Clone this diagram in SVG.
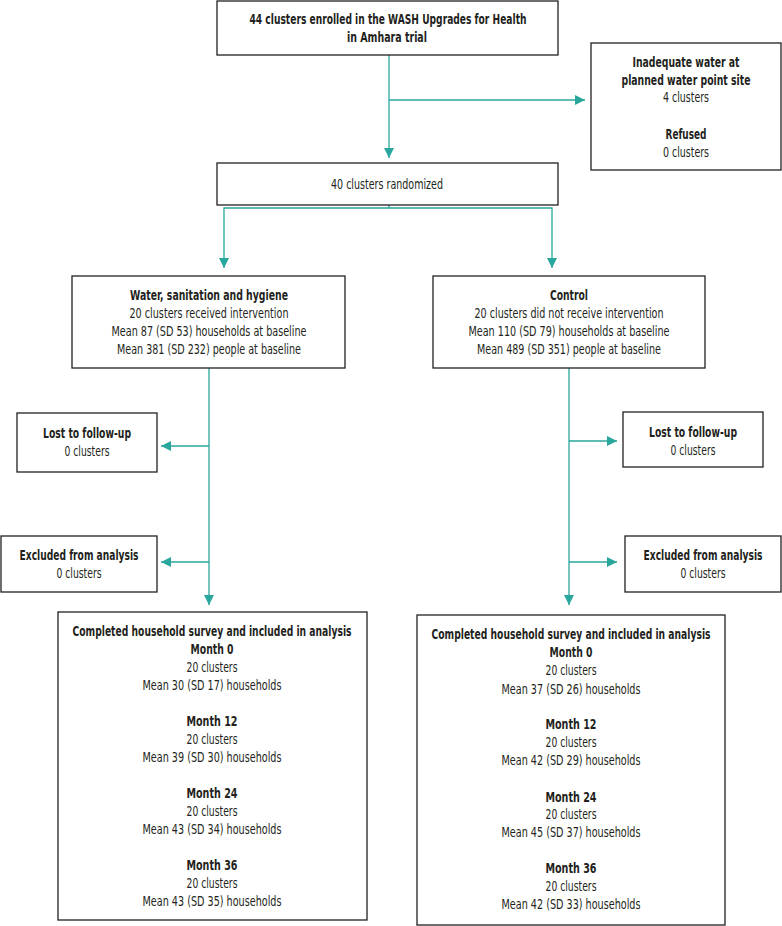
<svg xmlns="http://www.w3.org/2000/svg" width="782" height="926" viewBox="0 0 782 926">
<style>
.box{fill:#fff;stroke:#231f20;stroke-width:1.3}
text{font-family:"DejaVu Sans Condensed","Liberation Sans",sans-serif;font-stretch:condensed;font-size:14.5px;fill:#231f20;text-anchor:middle}
.b{font-weight:bold}
.ln{fill:none;stroke:#2aa79d;stroke-width:1.3}
</style>
<defs>
<marker id="ah" viewBox="0 0 10 10" refX="10" refY="5" markerWidth="10" markerHeight="10" markerUnits="userSpaceOnUse" orient="auto">
<path d="M0,0 L10,5 L0,10 z" fill="#2aa79d"/>
</marker>
</defs>
<g id="connectors">
<path class="ln" d="M389,55 V158" marker-end="url(#ah)"/>
<path class="ln" d="M389,100 H585" marker-end="url(#ah)"/>
<path class="ln" d="M389,205 V208 H224 V268" marker-end="url(#ah)"/>
<path class="ln" d="M389,208 H552 V268" marker-end="url(#ah)"/>
<path class="ln" d="M209,368 V605" marker-end="url(#ah)"/>
<path class="ln" d="M209,446 H161" marker-end="url(#ah)"/>
<path class="ln" d="M209,562 H161" marker-end="url(#ah)"/>
<path class="ln" d="M569,368 V605" marker-end="url(#ah)"/>
<path class="ln" d="M569,441 H617" marker-end="url(#ah)"/>
<path class="ln" d="M569,562 H617" marker-end="url(#ah)"/>
</g>
<g id="enrolled">
<rect class="box" x="217" y="1" width="341" height="54"/>
<text class="b" x="388" y="24" textLength="277" lengthAdjust="spacingAndGlyphs">44 clusters enrolled in the WASH Upgrades for Health</text>
<text class="b" x="387" y="42" textLength="80" lengthAdjust="spacingAndGlyphs">in Amhara trial</text>
</g>
<g id="excluded-top">
<rect class="box" x="591" y="43" width="190" height="127"/>
<text class="b" x="686" y="67" textLength="107" lengthAdjust="spacingAndGlyphs">Inadequate water at</text>
<text class="b" x="686" y="85" textLength="129" lengthAdjust="spacingAndGlyphs">planned water point site</text>
<text x="686" y="102" textLength="46" lengthAdjust="spacingAndGlyphs">4 clusters</text>
<text class="b" x="686" y="139" textLength="41" lengthAdjust="spacingAndGlyphs">Refused</text>
<text x="686" y="157" textLength="46" lengthAdjust="spacingAndGlyphs">0 clusters</text>
</g>
<g id="randomized">
<rect class="box" x="217" y="163" width="341" height="42"/>
<text x="387" y="189" textLength="112" lengthAdjust="spacingAndGlyphs">40 clusters randomized</text>
</g>
<g id="wash">
<rect class="box" x="72" y="276" width="273" height="92"/>
<text class="b" x="209" y="300" textLength="158" lengthAdjust="spacingAndGlyphs">Water, sanitation and hygiene</text>
<text x="209" y="318" textLength="159" lengthAdjust="spacingAndGlyphs">20 clusters received intervention</text>
<text x="209" y="336" textLength="195" lengthAdjust="spacingAndGlyphs">Mean 87 (SD 53) households at baseline</text>
<text x="209" y="354" textLength="184" lengthAdjust="spacingAndGlyphs">Mean 381 (SD 232) people at baseline</text>
</g>
<g id="control">
<rect class="box" x="433" y="276" width="272" height="92"/>
<text class="b" x="569" y="300" textLength="38" lengthAdjust="spacingAndGlyphs">Control</text>
<text x="569" y="318" textLength="189" lengthAdjust="spacingAndGlyphs">20 clusters did not receive intervention</text>
<text x="569" y="336" textLength="201" lengthAdjust="spacingAndGlyphs">Mean 110 (SD 79) households at baseline</text>
<text x="569" y="354" textLength="184" lengthAdjust="spacingAndGlyphs">Mean 489 (SD 351) people at baseline</text>
</g>
<g id="lost-left">
<rect class="box" x="17" y="413" width="140" height="59"/>
<text class="b" x="87" y="438" textLength="88" lengthAdjust="spacingAndGlyphs">Lost to follow-up</text>
<text x="87" y="456" textLength="45" lengthAdjust="spacingAndGlyphs">0 clusters</text>
</g>
<g id="excl-left">
<rect class="box" x="1" y="536" width="156" height="56"/>
<text class="b" x="79" y="560" textLength="119" lengthAdjust="spacingAndGlyphs">Excluded from analysis</text>
<text x="79" y="578" textLength="45" lengthAdjust="spacingAndGlyphs">0 clusters</text>
</g>
<g id="lost-right">
<rect class="box" x="623" y="412" width="140" height="55"/>
<text class="b" x="693" y="437" textLength="88" lengthAdjust="spacingAndGlyphs">Lost to follow-up</text>
<text x="693" y="455" textLength="45" lengthAdjust="spacingAndGlyphs">0 clusters</text>
</g>
<g id="excl-right">
<rect class="box" x="625" y="536" width="156" height="56"/>
<text class="b" x="703" y="560" textLength="119" lengthAdjust="spacingAndGlyphs">Excluded from analysis</text>
<text x="703" y="578" textLength="45" lengthAdjust="spacingAndGlyphs">0 clusters</text>
</g>
<g id="analysis-left">
<rect class="box" x="58" y="612" width="309" height="308"/>
<text class="b" x="212" y="636" textLength="279" lengthAdjust="spacingAndGlyphs">Completed household survey and included in analysis</text>
<text class="b" x="212" y="654" textLength="43" lengthAdjust="spacingAndGlyphs">Month 0</text>
<text x="212" y="672" textLength="51" lengthAdjust="spacingAndGlyphs">20 clusters</text>
<text x="212" y="690" textLength="139" lengthAdjust="spacingAndGlyphs">Mean 30 (SD 17) households</text>
<text class="b" x="212" y="726" textLength="51" lengthAdjust="spacingAndGlyphs">Month 12</text>
<text x="212" y="744" textLength="51" lengthAdjust="spacingAndGlyphs">20 clusters</text>
<text x="212" y="762" textLength="139" lengthAdjust="spacingAndGlyphs">Mean 39 (SD 30) households</text>
<text class="b" x="212" y="798" textLength="51" lengthAdjust="spacingAndGlyphs">Month 24</text>
<text x="212" y="816" textLength="51" lengthAdjust="spacingAndGlyphs">20 clusters</text>
<text x="212" y="834" textLength="139" lengthAdjust="spacingAndGlyphs">Mean 43 (SD 34) households</text>
<text class="b" x="212" y="870" textLength="51" lengthAdjust="spacingAndGlyphs">Month 36</text>
<text x="212" y="888" textLength="51" lengthAdjust="spacingAndGlyphs">20 clusters</text>
<text x="212" y="906" textLength="139" lengthAdjust="spacingAndGlyphs">Mean 43 (SD 35) households</text>
</g>
<g id="analysis-right">
<rect class="box" x="417" y="615" width="308" height="310"/>
<text class="b" x="571" y="639" textLength="279" lengthAdjust="spacingAndGlyphs">Completed household survey and included in analysis</text>
<text class="b" x="571" y="657" textLength="43" lengthAdjust="spacingAndGlyphs">Month 0</text>
<text x="571" y="675" textLength="51" lengthAdjust="spacingAndGlyphs">20 clusters</text>
<text x="571" y="694" textLength="139" lengthAdjust="spacingAndGlyphs">Mean 37 (SD 26) households</text>
<text class="b" x="571" y="729" textLength="51" lengthAdjust="spacingAndGlyphs">Month 12</text>
<text x="571" y="747" textLength="51" lengthAdjust="spacingAndGlyphs">20 clusters</text>
<text x="571" y="765" textLength="139" lengthAdjust="spacingAndGlyphs">Mean 42 (SD 29) households</text>
<text class="b" x="571" y="802" textLength="51" lengthAdjust="spacingAndGlyphs">Month 24</text>
<text x="571" y="819" textLength="51" lengthAdjust="spacingAndGlyphs">20 clusters</text>
<text x="571" y="837" textLength="139" lengthAdjust="spacingAndGlyphs">Mean 45 (SD 37) households</text>
<text class="b" x="571" y="873" textLength="51" lengthAdjust="spacingAndGlyphs">Month 36</text>
<text x="571" y="891" textLength="51" lengthAdjust="spacingAndGlyphs">20 clusters</text>
<text x="571" y="909" textLength="139" lengthAdjust="spacingAndGlyphs">Mean 42 (SD 33) households</text>
</g>
</svg>
